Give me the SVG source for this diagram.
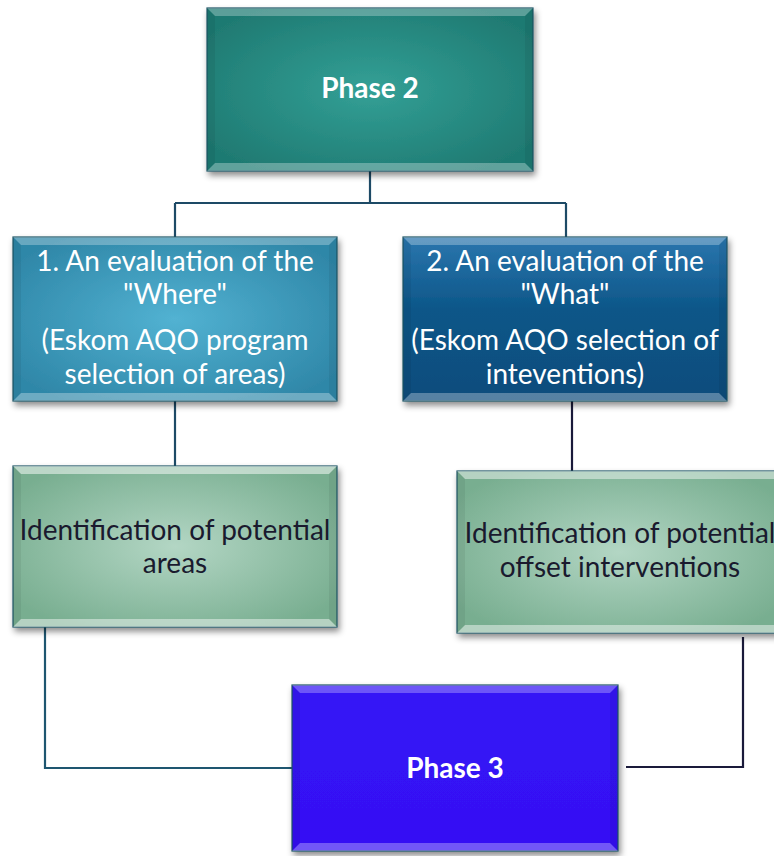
<svg xmlns="http://www.w3.org/2000/svg" width="774" height="856" viewBox="0 0 774 856">
<defs>
<filter id="sh" x="-10%" y="-10%" width="125%" height="130%">
<feDropShadow dx="2" dy="4" stdDeviation="3" flood-color="#000" flood-opacity="0.45"/>
</filter>
<radialGradient id="gP2" cx="50%" cy="50%" r="60%">
<stop offset="0" stop-color="#33a096"/><stop offset="1" stop-color="#1f7a72"/>
</radialGradient>
<radialGradient id="gB1" cx="50%" cy="50%" r="60%">
<stop offset="0" stop-color="#52b2d2"/><stop offset="1" stop-color="#2f87a8"/>
</radialGradient>
<linearGradient id="gB2" x1="0" y1="0" x2="0" y2="1">
<stop offset="0" stop-color="#2b76ae"/><stop offset="0.45" stop-color="#0c5688"/><stop offset="1" stop-color="#0a4c7c"/>
</linearGradient>
<radialGradient id="gG" cx="50%" cy="50%" r="60%">
<stop offset="0" stop-color="#b3d6c4"/><stop offset="1" stop-color="#78ae90"/>
</radialGradient>
<linearGradient id="gP3" x1="0" y1="0" x2="0" y2="1">
<stop offset="0" stop-color="#3614f6"/><stop offset="1" stop-color="#3410f4"/>
</linearGradient>
</defs>
<style>
.box{stroke:#1f5566;stroke-width:1.2;filter:url(#sh)}
.bt{fill:#fff;fill-opacity:0.28}
.bb{fill:#fff;fill-opacity:0.3}
.bs{fill:#000;fill-opacity:0.06}
.wt{font-family:Lato,"Liberation Sans",sans-serif;font-size:28px;fill:#fff;text-anchor:middle}
.wb{font-family:Lato,"Liberation Sans",sans-serif;font-size:28px;font-weight:bold;fill:#fff;text-anchor:middle}
.dt{font-family:Lato,"Liberation Sans",sans-serif;font-size:28px;fill:#1a1a2e;text-anchor:middle}
.ln{fill:none;stroke-width:2.2}
</style>
<g id="connectors">
<path class="ln" stroke="#1d4a66" d="M370 171 V203 M175 203 H566 M175 203 V237 M566 203 V237"/>
<path class="ln" stroke="#1d4a66" d="M175 401 V466"/>
<path class="ln" stroke="#1a1a3a" d="M572 401 V471"/>
<path class="ln" stroke="#1e5670" d="M45 627 V768 H292"/>
<path class="ln" stroke="#1a1a3a" d="M743 637 V767 H626"/>
</g>
<g id="phase2">
<rect class="box" x="207" y="8" width="326" height="163" fill="url(#gP2)"/>
<polygon class="bt" points="207,8 533,8 525,16 215,16"/>
<polygon class="bb" points="207,171 533,171 525,163 215,163"/>
<polygon class="bs" points="207,8 215,16 215,163 207,171"/>
<polygon class="bs" points="533,8 525,16 525,163 533,171"/>
<text class="wb" x="370" y="98">Phase 2</text>
</g>
<g id="where">
<rect class="box" x="13" y="237" width="324" height="164" fill="url(#gB1)"/>
<polygon class="bt" points="13,237 337,237 329,245 21,245"/>
<polygon class="bb" points="13,401 337,401 329,393 21,393"/>
<polygon class="bs" points="13,237 21,245 21,393 13,401"/>
<polygon class="bs" points="337,237 329,245 329,393 337,401"/>
<text class="wt" x="175" y="271">1. An evaluation of the</text>
<text class="wt" x="175" y="304">"Where"</text>
<text class="wt" x="175" y="350">(Eskom AQO program</text>
<text class="wt" x="175" y="384">selection of areas)</text>
</g>
<g id="what">
<rect class="box" x="403" y="237" width="324" height="164" fill="url(#gB2)"/>
<polygon class="bt" points="403,237 727,237 719,245 411,245"/>
<polygon class="bb" points="403,401 727,401 719,393 411,393"/>
<polygon class="bs" points="403,237 411,245 411,393 403,401"/>
<polygon class="bs" points="727,237 719,245 719,393 727,401"/>
<text class="wt" x="565" y="271">2. An evaluation of the</text>
<text class="wt" x="565" y="304">"What"</text>
<text class="wt" x="565" y="350">(Eskom AQO selection of</text>
<text class="wt" x="565" y="384">inteventions)</text>
</g>
<g id="areas">
<rect class="box" x="13" y="466" width="324" height="161" fill="url(#gG)"/>
<polygon class="bt" points="13,466 337,466 329,474 21,474" style="fill-opacity:0.5"/>
<polygon class="bb" points="13,627 337,627 329,619 21,619" style="fill-opacity:0.45"/>
<polygon class="bs" points="13,466 21,474 21,619 13,627"/>
<polygon class="bs" points="337,466 329,474 329,619 337,627"/>
<text class="dt" x="175" y="540">Identification of potential</text>
<text class="dt" x="175" y="573">areas</text>
</g>
<g id="interventions">
<rect class="box" x="457" y="471" width="326" height="162" fill="url(#gG)"/>
<polygon class="bt" points="457,471 783,471 775,479 465,479" style="fill-opacity:0.45"/>
<polygon class="bb" points="457,633 783,633 775,625 465,625" style="fill-opacity:0.45"/>
<polygon class="bs" points="457,471 465,479 465,625 457,633"/>
<text class="dt" x="620" y="543">Identification of potential</text>
<text class="dt" x="620" y="577">offset interventions</text>
</g>
<g id="phase3">
<rect class="box" x="292" y="685" width="326" height="166" fill="url(#gP3)"/>
<polygon class="bt" points="292,685 618,685 610,693 300,693"/>
<polygon class="bb" points="292,851 618,851 610,843 300,843"/>
<polygon class="bs" points="292,685 300,693 300,843 292,851"/>
<polygon class="bs" points="618,685 610,693 610,843 618,851"/>
<text class="wb" x="455" y="778">Phase 3</text>
</g>
</svg>
